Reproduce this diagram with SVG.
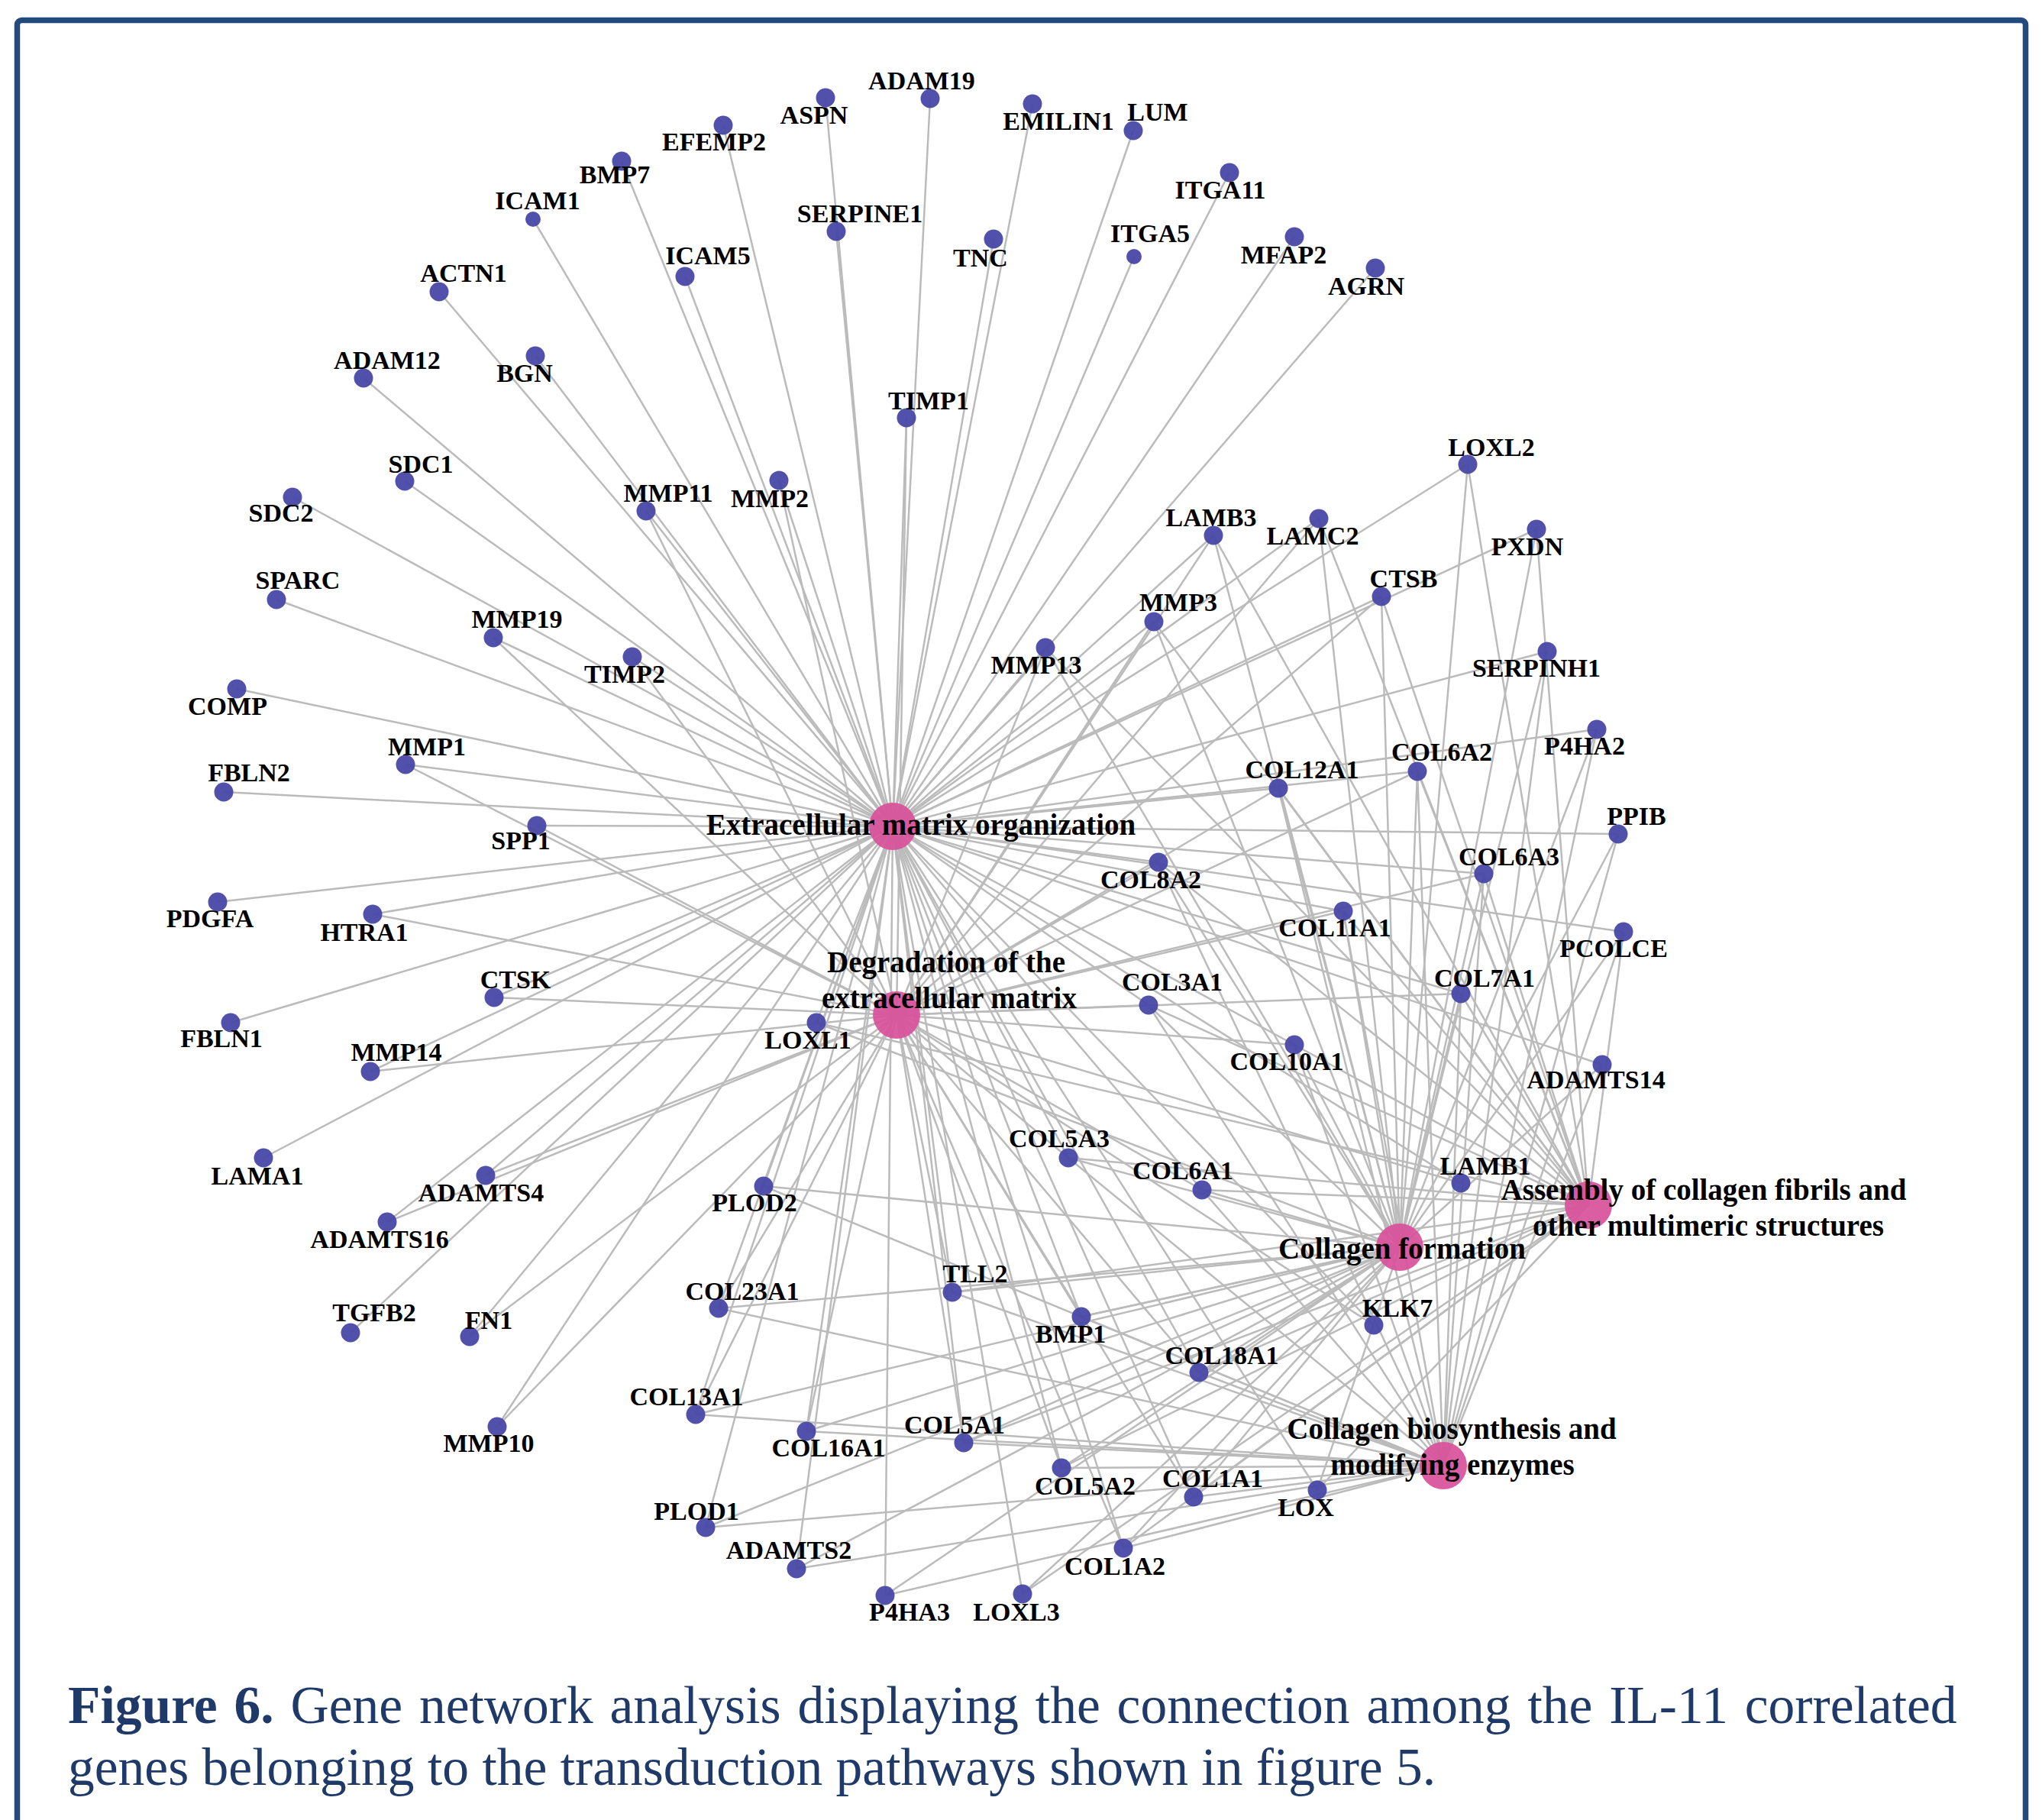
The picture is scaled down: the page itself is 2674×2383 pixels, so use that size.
<svg xmlns="http://www.w3.org/2000/svg" width="2674" height="2383" viewBox="0 0 2674 2383">
<style>
.e line{stroke:#bbbbbb;stroke-width:2.5}
.g{fill:#4848a8;fill-opacity:0.95}
.h{fill:#d9509a;fill-opacity:0.92}
text{font-family:"Liberation Serif","Times New Roman",serif;font-weight:bold;fill:#000;text-anchor:middle}
.l{font-size:34px}
.hl{font-size:39px}
.cap{font-size:69.5px;font-weight:normal;fill:#1f3a68;text-anchor:start}
</style>
<rect x="0" y="0" width="2674" height="2383" fill="#fff"/>
<rect x="22.5" y="26.5" width="2630" height="2400" rx="6" fill="none" stroke="#234a7d" stroke-width="7.5"/>
<g id="connectors" class="e">
<line x1="1081" y1="128" x2="1169" y2="1082"/>
<line x1="1218" y1="129" x2="1169" y2="1082"/>
<line x1="947" y1="164" x2="1169" y2="1082"/>
<line x1="1352" y1="136" x2="1169" y2="1082"/>
<line x1="1484" y1="171" x2="1169" y2="1082"/>
<line x1="814" y1="211" x2="1169" y2="1082"/>
<line x1="698" y1="287" x2="1169" y2="1082"/>
<line x1="1095" y1="303" x2="1169" y2="1082"/>
<line x1="1301" y1="313" x2="1169" y2="1082"/>
<line x1="1485" y1="336" x2="1169" y2="1082"/>
<line x1="1610" y1="226" x2="1169" y2="1082"/>
<line x1="1695" y1="310" x2="1169" y2="1082"/>
<line x1="1801" y1="351" x2="1169" y2="1082"/>
<line x1="575" y1="382" x2="1169" y2="1082"/>
<line x1="897" y1="362" x2="1169" y2="1082"/>
<line x1="701" y1="466" x2="1169" y2="1082"/>
<line x1="476" y1="495" x2="1169" y2="1082"/>
<line x1="530" y1="630" x2="1169" y2="1082"/>
<line x1="383" y1="651" x2="1169" y2="1082"/>
<line x1="362" y1="785" x2="1169" y2="1082"/>
<line x1="310" y1="902" x2="1169" y2="1082"/>
<line x1="293" y1="1037" x2="1169" y2="1082"/>
<line x1="285" y1="1181" x2="1169" y2="1082"/>
<line x1="302" y1="1339" x2="1169" y2="1082"/>
<line x1="345" y1="1516" x2="1169" y2="1082"/>
<line x1="459" y1="1745" x2="1169" y2="1082"/>
<line x1="1187" y1="547" x2="1169" y2="1082"/><line x1="1187" y1="547" x2="1174" y2="1329"/>
<line x1="828" y1="860" x2="1169" y2="1082"/><line x1="828" y1="860" x2="1174" y2="1329"/>
<line x1="1020" y1="629" x2="1169" y2="1082"/><line x1="1020" y1="629" x2="1174" y2="1329"/>
<line x1="846" y1="669" x2="1169" y2="1082"/><line x1="846" y1="669" x2="1174" y2="1329"/>
<line x1="646" y1="835" x2="1169" y2="1082"/><line x1="646" y1="835" x2="1174" y2="1329"/>
<line x1="531" y1="1001" x2="1169" y2="1082"/><line x1="531" y1="1001" x2="1174" y2="1329"/>
<line x1="703" y1="1081" x2="1169" y2="1082"/><line x1="703" y1="1081" x2="1174" y2="1329"/>
<line x1="488" y1="1197" x2="1169" y2="1082"/><line x1="488" y1="1197" x2="1174" y2="1329"/>
<line x1="647" y1="1306" x2="1169" y2="1082"/><line x1="647" y1="1306" x2="1174" y2="1329"/>
<line x1="485" y1="1403" x2="1169" y2="1082"/><line x1="485" y1="1403" x2="1174" y2="1329"/>
<line x1="636" y1="1539" x2="1169" y2="1082"/><line x1="636" y1="1539" x2="1174" y2="1329"/>
<line x1="507" y1="1600" x2="1169" y2="1082"/><line x1="507" y1="1600" x2="1174" y2="1329"/>
<line x1="615" y1="1750" x2="1169" y2="1082"/><line x1="615" y1="1750" x2="1174" y2="1329"/>
<line x1="651" y1="1868" x2="1169" y2="1082"/><line x1="651" y1="1868" x2="1174" y2="1329"/>
<line x1="1799" y1="1735" x2="1169" y2="1082"/><line x1="1799" y1="1735" x2="1174" y2="1329"/>
<line x1="1913" y1="1549" x2="1169" y2="1082"/><line x1="1913" y1="1549" x2="1174" y2="1329"/>
<line x1="1589" y1="701" x2="1169" y2="1082"/><line x1="1589" y1="701" x2="1174" y2="1329"/><line x1="1589" y1="701" x2="1833" y2="1633"/><line x1="1589" y1="701" x2="2080" y2="1578"/>
<line x1="1727" y1="679" x2="1169" y2="1082"/><line x1="1727" y1="679" x2="1174" y2="1329"/><line x1="1727" y1="679" x2="1833" y2="1633"/><line x1="1727" y1="679" x2="2080" y2="1578"/>
<line x1="1511" y1="814" x2="1169" y2="1082"/><line x1="1511" y1="814" x2="1174" y2="1329"/><line x1="1511" y1="814" x2="1833" y2="1633"/><line x1="1511" y1="814" x2="2080" y2="1578"/>
<line x1="1369" y1="848" x2="1169" y2="1082"/><line x1="1369" y1="848" x2="1174" y2="1329"/><line x1="1369" y1="848" x2="1833" y2="1633"/><line x1="1369" y1="848" x2="2080" y2="1578"/>
<line x1="1809" y1="781" x2="1169" y2="1082"/><line x1="1809" y1="781" x2="1174" y2="1329"/><line x1="1809" y1="781" x2="1833" y2="1633"/><line x1="1809" y1="781" x2="2080" y2="1578"/>
<line x1="1922" y1="608" x2="1169" y2="1082"/><line x1="1922" y1="608" x2="1833" y2="1633"/><line x1="1922" y1="608" x2="2080" y2="1578"/>
<line x1="2012" y1="693" x2="1169" y2="1082"/><line x1="2012" y1="693" x2="1833" y2="1633"/><line x1="2012" y1="693" x2="2080" y2="1578"/>
<line x1="1069" y1="1339" x2="1169" y2="1082"/><line x1="1069" y1="1339" x2="1833" y2="1633"/><line x1="1069" y1="1339" x2="2080" y2="1578"/>
<line x1="1339" y1="2087" x2="1169" y2="1082"/><line x1="1339" y1="2087" x2="1833" y2="1633"/><line x1="1339" y1="2087" x2="2080" y2="1578"/>
<line x1="1725" y1="1951" x2="1169" y2="1082"/><line x1="1725" y1="1951" x2="1833" y2="1633"/><line x1="1725" y1="1951" x2="2080" y2="1578"/>
<line x1="2026" y1="853" x2="1169" y2="1082"/><line x1="2026" y1="853" x2="1833" y2="1633"/><line x1="2026" y1="853" x2="1890" y2="1919"/>
<line x1="2091" y1="955" x2="1169" y2="1082"/><line x1="2091" y1="955" x2="1833" y2="1633"/><line x1="2091" y1="955" x2="1890" y2="1919"/>
<line x1="2119" y1="1092" x2="1169" y2="1082"/><line x1="2119" y1="1092" x2="1833" y2="1633"/><line x1="2119" y1="1092" x2="1890" y2="1919"/>
<line x1="1000" y1="1553" x2="1169" y2="1082"/><line x1="1000" y1="1553" x2="1833" y2="1633"/><line x1="1000" y1="1553" x2="1890" y2="1919"/>
<line x1="924" y1="2000" x2="1169" y2="1082"/><line x1="924" y1="2000" x2="1833" y2="1633"/><line x1="924" y1="2000" x2="1890" y2="1919"/>
<line x1="1159" y1="2089" x2="1169" y2="1082"/><line x1="1159" y1="2089" x2="1833" y2="1633"/><line x1="1159" y1="2089" x2="1890" y2="1919"/>
<line x1="1043" y1="2054" x2="1169" y2="1082"/><line x1="1043" y1="2054" x2="1833" y2="1633"/><line x1="1043" y1="2054" x2="1890" y2="1919"/>
<line x1="2098" y1="1394" x2="1169" y2="1082"/><line x1="2098" y1="1394" x2="1833" y2="1633"/><line x1="2098" y1="1394" x2="1890" y2="1919"/>
<line x1="2126" y1="1220" x2="1169" y2="1082"/><line x1="2126" y1="1220" x2="1833" y2="1633"/><line x1="2126" y1="1220" x2="2080" y2="1578"/><line x1="2126" y1="1220" x2="1890" y2="1919"/>
<line x1="1416" y1="1724" x2="1169" y2="1082"/><line x1="1416" y1="1724" x2="1174" y2="1329"/><line x1="1416" y1="1724" x2="1833" y2="1633"/><line x1="1416" y1="1724" x2="2080" y2="1578"/><line x1="1416" y1="1724" x2="1890" y2="1919"/>
<line x1="1247" y1="1692" x2="1169" y2="1082"/><line x1="1247" y1="1692" x2="1174" y2="1329"/><line x1="1247" y1="1692" x2="1833" y2="1633"/><line x1="1247" y1="1692" x2="2080" y2="1578"/><line x1="1247" y1="1692" x2="1890" y2="1919"/>
<line x1="1674" y1="1032" x2="1169" y2="1082"/><line x1="1674" y1="1032" x2="1174" y2="1329"/><line x1="1674" y1="1032" x2="1833" y2="1633"/><line x1="1674" y1="1032" x2="2080" y2="1578"/><line x1="1674" y1="1032" x2="1890" y2="1919"/>
<line x1="1856" y1="1010" x2="1169" y2="1082"/><line x1="1856" y1="1010" x2="1174" y2="1329"/><line x1="1856" y1="1010" x2="1833" y2="1633"/><line x1="1856" y1="1010" x2="2080" y2="1578"/><line x1="1856" y1="1010" x2="1890" y2="1919"/>
<line x1="1517" y1="1129" x2="1169" y2="1082"/><line x1="1517" y1="1129" x2="1174" y2="1329"/><line x1="1517" y1="1129" x2="1833" y2="1633"/><line x1="1517" y1="1129" x2="2080" y2="1578"/><line x1="1517" y1="1129" x2="1890" y2="1919"/>
<line x1="1943" y1="1144" x2="1169" y2="1082"/><line x1="1943" y1="1144" x2="1174" y2="1329"/><line x1="1943" y1="1144" x2="1833" y2="1633"/><line x1="1943" y1="1144" x2="2080" y2="1578"/><line x1="1943" y1="1144" x2="1890" y2="1919"/>
<line x1="1759" y1="1193" x2="1169" y2="1082"/><line x1="1759" y1="1193" x2="1174" y2="1329"/><line x1="1759" y1="1193" x2="1833" y2="1633"/><line x1="1759" y1="1193" x2="2080" y2="1578"/><line x1="1759" y1="1193" x2="1890" y2="1919"/>
<line x1="1504" y1="1316" x2="1169" y2="1082"/><line x1="1504" y1="1316" x2="1174" y2="1329"/><line x1="1504" y1="1316" x2="1833" y2="1633"/><line x1="1504" y1="1316" x2="2080" y2="1578"/><line x1="1504" y1="1316" x2="1890" y2="1919"/>
<line x1="1913" y1="1301" x2="1169" y2="1082"/><line x1="1913" y1="1301" x2="1174" y2="1329"/><line x1="1913" y1="1301" x2="1833" y2="1633"/><line x1="1913" y1="1301" x2="2080" y2="1578"/><line x1="1913" y1="1301" x2="1890" y2="1919"/>
<line x1="1695" y1="1368" x2="1169" y2="1082"/><line x1="1695" y1="1368" x2="1174" y2="1329"/><line x1="1695" y1="1368" x2="1833" y2="1633"/><line x1="1695" y1="1368" x2="2080" y2="1578"/><line x1="1695" y1="1368" x2="1890" y2="1919"/>
<line x1="1399" y1="1516" x2="1169" y2="1082"/><line x1="1399" y1="1516" x2="1174" y2="1329"/><line x1="1399" y1="1516" x2="1833" y2="1633"/><line x1="1399" y1="1516" x2="2080" y2="1578"/><line x1="1399" y1="1516" x2="1890" y2="1919"/>
<line x1="1574" y1="1558" x2="1169" y2="1082"/><line x1="1574" y1="1558" x2="1174" y2="1329"/><line x1="1574" y1="1558" x2="1833" y2="1633"/><line x1="1574" y1="1558" x2="2080" y2="1578"/><line x1="1574" y1="1558" x2="1890" y2="1919"/>
<line x1="1570" y1="1797" x2="1169" y2="1082"/><line x1="1570" y1="1797" x2="1174" y2="1329"/><line x1="1570" y1="1797" x2="1833" y2="1633"/><line x1="1570" y1="1797" x2="2080" y2="1578"/><line x1="1570" y1="1797" x2="1890" y2="1919"/>
<line x1="1262" y1="1889" x2="1169" y2="1082"/><line x1="1262" y1="1889" x2="1174" y2="1329"/><line x1="1262" y1="1889" x2="1833" y2="1633"/><line x1="1262" y1="1889" x2="2080" y2="1578"/><line x1="1262" y1="1889" x2="1890" y2="1919"/>
<line x1="1390" y1="1922" x2="1169" y2="1082"/><line x1="1390" y1="1922" x2="1174" y2="1329"/><line x1="1390" y1="1922" x2="1833" y2="1633"/><line x1="1390" y1="1922" x2="2080" y2="1578"/><line x1="1390" y1="1922" x2="1890" y2="1919"/>
<line x1="1563" y1="1960" x2="1169" y2="1082"/><line x1="1563" y1="1960" x2="1174" y2="1329"/><line x1="1563" y1="1960" x2="1833" y2="1633"/><line x1="1563" y1="1960" x2="2080" y2="1578"/><line x1="1563" y1="1960" x2="1890" y2="1919"/>
<line x1="1471" y1="2027" x2="1169" y2="1082"/><line x1="1471" y1="2027" x2="1174" y2="1329"/><line x1="1471" y1="2027" x2="1833" y2="1633"/><line x1="1471" y1="2027" x2="2080" y2="1578"/><line x1="1471" y1="2027" x2="1890" y2="1919"/>
<line x1="911" y1="1852" x2="1169" y2="1082"/><line x1="911" y1="1852" x2="1174" y2="1329"/><line x1="911" y1="1852" x2="1833" y2="1633"/><line x1="911" y1="1852" x2="1890" y2="1919"/>
<line x1="1056" y1="1874" x2="1169" y2="1082"/><line x1="1056" y1="1874" x2="1174" y2="1329"/><line x1="1056" y1="1874" x2="1833" y2="1633"/><line x1="1056" y1="1874" x2="1890" y2="1919"/>
<line x1="941" y1="1713" x2="1169" y2="1082"/><line x1="941" y1="1713" x2="1174" y2="1329"/><line x1="941" y1="1713" x2="1833" y2="1633"/><line x1="941" y1="1713" x2="1890" y2="1919"/>
</g>
<g id="genes">
<g id="n-ASPN"><circle class="g" cx="1081" cy="128" r="12.5"/><text class="l" x="1066" y="162">ASPN</text></g>
<g id="n-ADAM19"><circle class="g" cx="1218" cy="129" r="12.5"/><text class="l" x="1207" y="117">ADAM19</text></g>
<g id="n-EFEMP2"><circle class="g" cx="947" cy="164" r="12.5"/><text class="l" x="935" y="197">EFEMP2</text></g>
<g id="n-EMILIN1"><circle class="g" cx="1352" cy="136" r="12.5"/><text class="l" x="1386" y="170">EMILIN1</text></g>
<g id="n-LUM"><circle class="g" cx="1484" cy="171" r="12.5"/><text class="l" x="1516" y="158">LUM</text></g>
<g id="n-BMP7"><circle class="g" cx="814" cy="211" r="12.5"/><text class="l" x="805" y="240">BMP7</text></g>
<g id="n-ICAM1"><circle class="g" cx="698" cy="287" r="10"/><text class="l" x="704" y="274">ICAM1</text></g>
<g id="n-SERPINE1"><circle class="g" cx="1095" cy="303" r="12.5"/><text class="l" x="1126" y="291">SERPINE1</text></g>
<g id="n-TNC"><circle class="g" cx="1301" cy="313" r="12.5"/><text class="l" x="1284" y="349">TNC</text></g>
<g id="n-ITGA5"><circle class="g" cx="1485" cy="336" r="10"/><text class="l" x="1506" y="317">ITGA5</text></g>
<g id="n-ITGA11"><circle class="g" cx="1610" cy="226" r="12.5"/><text class="l" x="1598" y="260">ITGA11</text></g>
<g id="n-MFAP2"><circle class="g" cx="1695" cy="310" r="12.5"/><text class="l" x="1681" y="345">MFAP2</text></g>
<g id="n-AGRN"><circle class="g" cx="1801" cy="351" r="12.5"/><text class="l" x="1789" y="386">AGRN</text></g>
<g id="n-ACTN1"><circle class="g" cx="575" cy="382" r="12.5"/><text class="l" x="607" y="369">ACTN1</text></g>
<g id="n-ICAM5"><circle class="g" cx="897" cy="362" r="12.5"/><text class="l" x="927" y="346">ICAM5</text></g>
<g id="n-BGN"><circle class="g" cx="701" cy="466" r="12.5"/><text class="l" x="687" y="500">BGN</text></g>
<g id="n-ADAM12"><circle class="g" cx="476" cy="495" r="12.5"/><text class="l" x="507" y="483">ADAM12</text></g>
<g id="n-TIMP1"><circle class="g" cx="1187" cy="547" r="12.5"/><text class="l" x="1216" y="536">TIMP1</text></g>
<g id="n-SDC1"><circle class="g" cx="530" cy="630" r="12.5"/><text class="l" x="551" y="619">SDC1</text></g>
<g id="n-SDC2"><circle class="g" cx="383" cy="651" r="12.5"/><text class="l" x="368" y="683">SDC2</text></g>
<g id="n-MMP11"><circle class="g" cx="846" cy="669" r="12.5"/><text class="l" x="875" y="657">MMP11</text></g>
<g id="n-MMP2"><circle class="g" cx="1020" cy="629" r="12.5"/><text class="l" x="1008" y="664">MMP2</text></g>
<g id="n-LOXL2"><circle class="g" cx="1922" cy="608" r="12.5"/><text class="l" x="1953" y="597">LOXL2</text></g>
<g id="n-LAMB3"><circle class="g" cx="1589" cy="701" r="12.5"/><text class="l" x="1586" y="689">LAMB3</text></g>
<g id="n-LAMC2"><circle class="g" cx="1727" cy="679" r="12.5"/><text class="l" x="1719" y="713">LAMC2</text></g>
<g id="n-PXDN"><circle class="g" cx="2012" cy="693" r="12.5"/><text class="l" x="2000" y="727">PXDN</text></g>
<g id="n-SPARC"><circle class="g" cx="362" cy="785" r="12.5"/><text class="l" x="390" y="771">SPARC</text></g>
<g id="n-CTSB"><circle class="g" cx="1809" cy="781" r="12.5"/><text class="l" x="1838" y="769">CTSB</text></g>
<g id="n-MMP3"><circle class="g" cx="1511" cy="814" r="12.5"/><text class="l" x="1543" y="800">MMP3</text></g>
<g id="n-MMP19"><circle class="g" cx="646" cy="835" r="12.5"/><text class="l" x="677" y="822">MMP19</text></g>
<g id="n-TIMP2"><circle class="g" cx="828" cy="860" r="12.5"/><text class="l" x="818" y="894">TIMP2</text></g>
<g id="n-MMP13"><circle class="g" cx="1369" cy="848" r="12.5"/><text class="l" x="1357" y="882">MMP13</text></g>
<g id="n-SERPINH1"><circle class="g" cx="2026" cy="853" r="12.5"/><text class="l" x="2012" y="886">SERPINH1</text></g>
<g id="n-COMP"><circle class="g" cx="310" cy="902" r="12.5"/><text class="l" x="298" y="936">COMP</text></g>
<g id="n-P4HA2"><circle class="g" cx="2091" cy="955" r="12.5"/><text class="l" x="2075" y="988">P4HA2</text></g>
<g id="n-MMP1"><circle class="g" cx="531" cy="1001" r="12.5"/><text class="l" x="559" y="989">MMP1</text></g>
<g id="n-COL12A1"><circle class="g" cx="1674" cy="1032" r="12.5"/><text class="l" x="1705" y="1019">COL12A1</text></g>
<g id="n-COL6A2"><circle class="g" cx="1856" cy="1010" r="12.5"/><text class="l" x="1888" y="996">COL6A2</text></g>
<g id="n-FBLN2"><circle class="g" cx="293" cy="1037" r="12.5"/><text class="l" x="326" y="1023">FBLN2</text></g>
<g id="n-SPP1"><circle class="g" cx="703" cy="1081" r="12.5"/><text class="l" x="682" y="1112">SPP1</text></g>
<g id="n-PPIB"><circle class="g" cx="2119" cy="1092" r="12.5"/><text class="l" x="2143" y="1080">PPIB</text></g>
<g id="n-COL8A2"><circle class="g" cx="1517" cy="1129" r="12.5"/><text class="l" x="1507" y="1163">COL8A2</text></g>
<g id="n-COL6A3"><circle class="g" cx="1943" cy="1144" r="12.5"/><text class="l" x="1976" y="1133">COL6A3</text></g>
<g id="n-PDGFA"><circle class="g" cx="285" cy="1181" r="12.5"/><text class="l" x="275" y="1214">PDGFA</text></g>
<g id="n-HTRA1"><circle class="g" cx="488" cy="1197" r="12.5"/><text class="l" x="477" y="1232">HTRA1</text></g>
<g id="n-COL11A1"><circle class="g" cx="1759" cy="1193" r="12.5"/><text class="l" x="1748" y="1226">COL11A1</text></g>
<g id="n-PCOLCE"><circle class="g" cx="2126" cy="1220" r="12.5"/><text class="l" x="2113" y="1253">PCOLCE</text></g>
<g id="n-CTSK"><circle class="g" cx="647" cy="1306" r="12.5"/><text class="l" x="675" y="1294">CTSK</text></g>
<g id="n-COL3A1"><circle class="g" cx="1504" cy="1316" r="12.5"/><text class="l" x="1535" y="1297">COL3A1</text></g>
<g id="n-COL7A1"><circle class="g" cx="1913" cy="1301" r="12.5"/><text class="l" x="1944" y="1292">COL7A1</text></g>
<g id="n-LOXL1"><circle class="g" cx="1069" cy="1339" r="12.5"/><text class="l" x="1058" y="1373">LOXL1</text></g>
<g id="n-FBLN1"><circle class="g" cx="302" cy="1339" r="12.5"/><text class="l" x="290" y="1371">FBLN1</text></g>
<g id="n-MMP14"><circle class="g" cx="485" cy="1403" r="12.5"/><text class="l" x="519" y="1389">MMP14</text></g>
<g id="n-COL10A1"><circle class="g" cx="1695" cy="1368" r="12.5"/><text class="l" x="1685" y="1401">COL10A1</text></g>
<g id="n-ADAMTS14"><circle class="g" cx="2098" cy="1394" r="12.5"/><text class="l" x="2090" y="1425">ADAMTS14</text></g>
<g id="n-COL5A3"><circle class="g" cx="1399" cy="1516" r="12.5"/><text class="l" x="1387" y="1502">COL5A3</text></g>
<g id="n-LAMA1"><circle class="g" cx="345" cy="1516" r="12.5"/><text class="l" x="337" y="1551">LAMA1</text></g>
<g id="n-ADAMTS4"><circle class="g" cx="636" cy="1539" r="12.5"/><text class="l" x="630" y="1573">ADAMTS4</text></g>
<g id="n-COL6A1"><circle class="g" cx="1574" cy="1558" r="12.5"/><text class="l" x="1549" y="1544">COL6A1</text></g>
<g id="n-LAMB1"><circle class="g" cx="1913" cy="1549" r="12.5"/><text class="l" x="1945" y="1538">LAMB1</text></g>
<g id="n-PLOD2"><circle class="g" cx="1000" cy="1553" r="12.5"/><text class="l" x="988" y="1586">PLOD2</text></g>
<g id="n-ADAMTS16"><circle class="g" cx="507" cy="1600" r="12.5"/><text class="l" x="497" y="1634">ADAMTS16</text></g>
<g id="n-TLL2"><circle class="g" cx="1247" cy="1692" r="12.5"/><text class="l" x="1277" y="1679">TLL2</text></g>
<g id="n-COL23A1"><circle class="g" cx="941" cy="1713" r="12.5"/><text class="l" x="972" y="1702">COL23A1</text></g>
<g id="n-KLK7"><circle class="g" cx="1799" cy="1735" r="12.5"/><text class="l" x="1830" y="1724">KLK7</text></g>
<g id="n-BMP1"><circle class="g" cx="1416" cy="1724" r="12.5"/><text class="l" x="1402" y="1758">BMP1</text></g>
<g id="n-TGFB2"><circle class="g" cx="459" cy="1745" r="12.5"/><text class="l" x="490" y="1730">TGFB2</text></g>
<g id="n-FN1"><circle class="g" cx="615" cy="1750" r="12.5"/><text class="l" x="640" y="1740">FN1</text></g>
<g id="n-COL18A1"><circle class="g" cx="1570" cy="1797" r="12.5"/><text class="l" x="1600" y="1786">COL18A1</text></g>
<g id="n-COL13A1"><circle class="g" cx="911" cy="1852" r="12.5"/><text class="l" x="899" y="1840">COL13A1</text></g>
<g id="n-MMP10"><circle class="g" cx="651" cy="1868" r="12.5"/><text class="l" x="640" y="1901">MMP10</text></g>
<g id="n-COL16A1"><circle class="g" cx="1056" cy="1874" r="12.5"/><text class="l" x="1085" y="1907">COL16A1</text></g>
<g id="n-COL5A1"><circle class="g" cx="1262" cy="1889" r="12.5"/><text class="l" x="1250" y="1877">COL5A1</text></g>
<g id="n-COL5A2"><circle class="g" cx="1390" cy="1922" r="12.5"/><text class="l" x="1421" y="1957">COL5A2</text></g>
<g id="n-COL1A1"><circle class="g" cx="1563" cy="1960" r="12.5"/><text class="l" x="1588" y="1947">COL1A1</text></g>
<g id="n-LOX"><circle class="g" cx="1725" cy="1951" r="12.5"/><text class="l" x="1710" y="1985">LOX</text></g>
<g id="n-PLOD1"><circle class="g" cx="924" cy="2000" r="12.5"/><text class="l" x="912" y="1990">PLOD1</text></g>
<g id="n-COL1A2"><circle class="g" cx="1471" cy="2027" r="12.5"/><text class="l" x="1460" y="2062">COL1A2</text></g>
<g id="n-ADAMTS2"><circle class="g" cx="1043" cy="2054" r="12.5"/><text class="l" x="1033" y="2041">ADAMTS2</text></g>
<g id="n-P4HA3"><circle class="g" cx="1159" cy="2089" r="12.5"/><text class="l" x="1191" y="2122">P4HA3</text></g>
<g id="n-LOXL3"><circle class="g" cx="1339" cy="2087" r="12.5"/><text class="l" x="1331" y="2122">LOXL3</text></g>
</g>
<g id="pathways">
<g id="p-ecm-org"><circle class="h" cx="1169" cy="1082" r="31"/><text class="hl" x="1206" y="1093">Extracellular matrix organization</text></g>
<g id="p-degradation"><circle class="h" cx="1174" cy="1329" r="31"/><text class="hl" x="1239" y="1273">Degradation of the</text><text class="hl" x="1243" y="1320">extracellular matrix</text></g>
<g id="p-collagen-formation"><circle class="h" cx="1833" cy="1633" r="31"/><text class="hl" x="1836" y="1648">Collagen formation</text></g>
<g id="p-assembly"><circle class="h" cx="2080" cy="1578" r="31"/><text class="hl" x="2231" y="1571">Assembly of collagen fibrils and</text><text class="hl" x="2237" y="1618">other multimeric structures</text></g>
<g id="p-biosynthesis"><circle class="h" cx="1890" cy="1919" r="31"/><text class="hl" x="1901" y="1884">Collagen biosynthesis and</text><text class="hl" x="1902" y="1931">modifying enzymes</text></g>
</g>
<g id="caption">
<text class="cap" x="89" y="2256" word-spacing="4.5"><tspan font-weight="bold">Figure 6.</tspan> Gene network analysis displaying the connection among the IL-11 correlated</text>
<text class="cap" x="89" y="2337">genes belonging to the transduction pathways shown in figure 5.</text>
</g>
</svg>
